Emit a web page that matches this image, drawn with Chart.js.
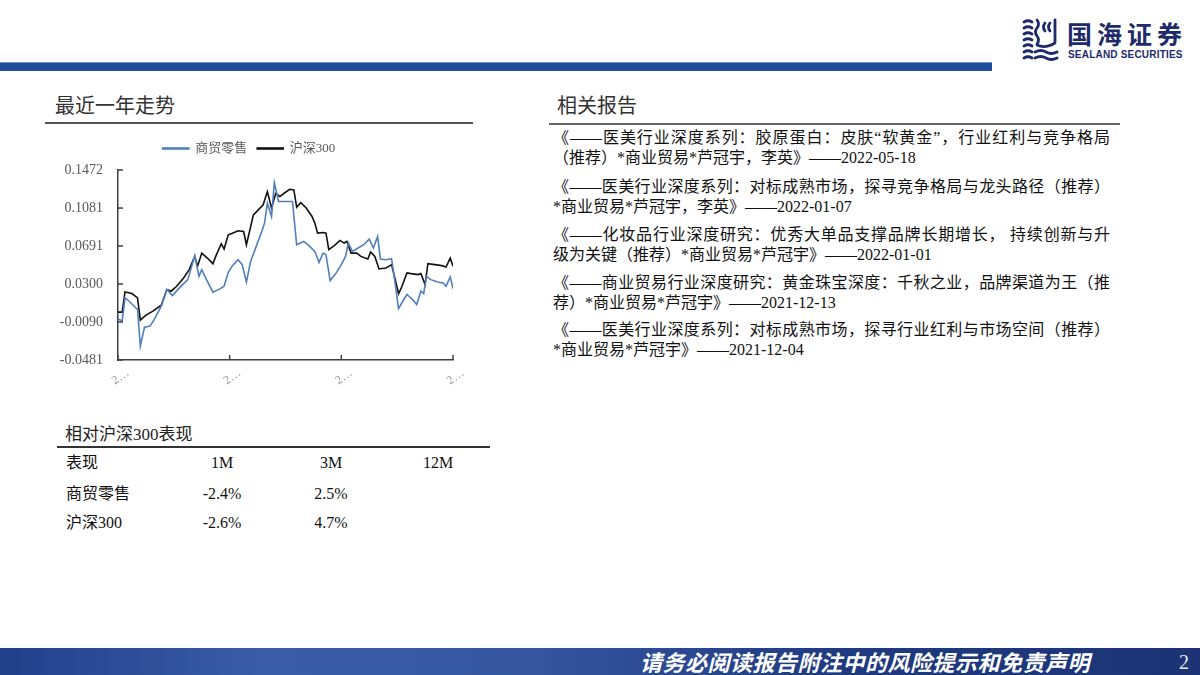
<!DOCTYPE html>
<html><head><meta charset="utf-8">
<script src="https://cdn.jsdelivr.net/npm/chart.js@4.4.0/dist/chart.umd.min.js"></script>
<style>
html,body{margin:0;padding:0;}
body{width:1200px;height:675px;position:relative;overflow:hidden;background:#fff;font-family:"Liberation Serif","Noto Sans CJK SC",serif;color:#111;}
.a{position:absolute;white-space:nowrap;}
.cjk{font-family:"Noto Sans CJK SC",sans-serif;}
.rep{position:absolute;left:553px;width:557px;font-size:16px;line-height:20px;color:#111;}
.rep div{white-space:nowrap;}
.rep .j{text-align:justify;text-align-last:justify;white-space:normal;}
.tc{position:absolute;font-size:16px;line-height:20px;text-align:center;width:80px;}
</style></head>
<body>
<!-- header -->
<div class="a" style="left:0;top:63px;width:992px;height:8px;background:#1f4c99;box-shadow:0 -1px 0 #6f8fc6;"></div>
<svg class="a" style="left:1021px;top:17px" width="40" height="44" viewBox="0 0 40 44">
 <g fill="none" stroke="#1d2b6b" stroke-width="2.8" stroke-linecap="round">
  <path d="M3 5 q4 -2.5 8 0 M3 11 q4 -2.5 8 0 M3 17 q4 -2.5 8 0 M3 23 q4 -2.5 8 0 M3 29 q4 -2.5 8 0 M3 35 q4 -2.5 8 0 M3 41 q4 -2.5 8 0"/>
  <path d="M16 3 q3 4 0 8 q-3 4 0 8 q3 4 0 8 M16 28 q8 4 18 -2 M34 3 v22"/>
  <path d="M24 6 q-3 4 0 8 M29 6 q-3 4 0 8"/>
  <path d="M14 35 q6 -3 11 0 t11 0 M14 41 q6 -3 11 0 t11 0"/>
 </g>
</svg>
<div class="a cjk" style="left:1067px;top:20px;font-size:25px;line-height:27px;font-weight:bold;color:#1d2b6b;letter-spacing:5px;">国海证券</div>
<div class="a" style="left:1068px;top:49px;font-family:'Liberation Sans',sans-serif;font-size:10px;line-height:11px;font-weight:bold;color:#1d2b6b;letter-spacing:0.2px;">SEALAND SECURITIES</div>

<!-- left section -->
<div class="a cjk" style="left:55px;top:91px;font-size:20px;line-height:28px;color:#333;">最近一年走势</div>
<div class="a" style="left:45px;top:122px;width:428px;height:2px;background:#555;"></div>
<canvas id="c" width="430" height="260" style="position:absolute;left:45px;top:132px;width:430px;height:260px"></canvas>

<div class="a" style="left:65px;top:423px;font-size:17px;line-height:24px;color:#222;">相对沪深300表现</div>
<div class="a" style="left:57px;top:446px;width:433px;height:2px;background:#333;"></div>
<div id="tbl"></div>

<!-- right section -->
<div class="a cjk" style="left:557px;top:91px;font-size:20px;line-height:28px;color:#333;">相关报告</div>
<div class="a" style="left:549px;top:123px;width:571px;height:2px;background:#666;"></div>
<div id="reps"></div>

<!-- footer -->
<div class="a" style="left:0;top:648px;width:1200px;height:27px;background:linear-gradient(to right,#223f8a 0%,#3a5ca6 22%,#35559f 45%,#1f3a80 70%,#1c3476 100%);"></div>
<div class="a cjk" style="left:640px;top:649px;font-size:22px;line-height:25px;font-weight:bold;font-style:italic;color:#fff;letter-spacing:0.5px;padding-right:4px;">请务必阅读报告附注中的风险提示和免责声明</div>
<div class="a" style="left:1179px;top:650px;font-size:20px;line-height:24px;color:#e8e8e8;">2</div>

<script>
// ---- data ----
const xTickDays = [0, 80, 160, 240];
const xTickLabels = ['2…', '2…', '2…', '2…'];
const yTicks = [-0.0481, -0.0090, 0.0300, 0.0691, 0.1081, 0.1472];

const seriesNames = ['商贸零售', '沪深300'];

const retailDays = [0,3,5,8,14,16,19,23,26,31,35,39,44,50,55,58,60,64,68,73,76,79,82,86,89,92,95,99,103,105,107,110,112,115,119,125,128,133,136,141,144,147,149,152,156,160,163,165,168,172,176,180,183,186,188,192,196,198,201,204,207,211,214,217,219,221,224,229,233,235,238,240];
const retailValues = [-0.0057,-0.0081,0.0158,0.0123,0.0038,-0.0337,-0.0143,-0.0133,-0.0064,0.0072,0.0243,0.0182,0.0260,0.0345,0.0591,0.0380,0.0448,0.0328,0.0216,0.0250,0.0277,0.0420,0.0489,0.0550,0.0499,0.0321,0.0533,0.0687,0.0840,0.0926,0.1131,0.0994,0.1342,0.1148,0.1148,0.1148,0.0704,0.0738,0.0704,0.0636,0.0523,0.0618,0.0601,0.0335,0.0407,0.0499,0.0584,0.0721,0.0636,0.0670,0.0704,0.0762,0.0670,0.0789,0.0557,0.0550,0.0560,0.0362,0.0048,0.0123,0.0192,0.0141,0.0089,0.0226,0.0202,0.0380,0.0345,0.0321,0.0311,0.0277,0.0373,0.0253];

const hs300Days = [0,3,5,10,14,16,20,25,31,35,38,42,47,51,55,57,60,64,68,70,74,76,79,82,86,90,92,97,100,104,107,110,113,116,119,123,126,128,131,135,139,141,143,147,149,151,155,159,162,164,167,171,174,179,181,184,187,192,196,201,203,207,210,215,217,220,222,227,232,235,238,240];
const hs300Values = [0.0011,0.0011,0.0219,0.0202,0.0158,-0.0071,-0.0020,0.0021,0.0082,0.0243,0.0226,0.0277,0.0362,0.0448,0.0584,0.0482,0.0618,0.0567,0.0509,0.0584,0.0714,0.0659,0.0806,0.0823,0.0847,0.0840,0.0704,0.1011,0.1055,0.1114,0.1250,0.1079,0.1233,0.1199,0.1233,0.1274,0.1267,0.1090,0.1137,0.1079,0.0994,0.0926,0.0823,0.0830,0.0823,0.0653,0.0694,0.0748,0.0721,0.0738,0.0618,0.0618,0.0584,0.0557,0.0629,0.0584,0.0455,0.0465,0.0499,0.0202,0.0260,0.0414,0.0407,0.0397,0.0407,0.0294,0.0509,0.0499,0.0489,0.0475,0.0567,0.0482];

// table
const tableHeader = ['表现', '1M', '3M', '12M'];
const tableRows = [
  ['商贸零售', '-2.4%', '2.5%', ''],
  ['沪深300', '-2.6%', '4.7%', '']
];

const reports = [
  ['《——医美行业深度系列：胶原蛋白：皮肤“软黄金”，行业红利与竞争格局', '（推荐）*商业贸易*芦冠宇，李英》——2022-05-18'],
  ['《——医美行业深度系列：对标成熟市场，探寻竞争格局与龙头路径（推荐）', '*商业贸易*芦冠宇，李英》——2022-01-07'],
  ['《——化妆品行业深度研究：优秀大单品支撑品牌长期增长， 持续创新与升', '级为关键（推荐）*商业贸易*芦冠宇》——2022-01-01'],
  ['《——商业贸易行业深度研究：黄金珠宝深度：千秋之业，品牌渠道为王（推', '荐）*商业贸易*芦冠宇》——2021-12-13'],
  ['《——医美行业深度系列：对标成熟市场，探寻行业红利与市场空间（推荐）', '*商业贸易*芦冠宇》——2021-12-04']
];

// ---- build table ----
(function(){
  const colCenters = [0, 222, 331, 438];
  const rowCenters = [463, 494, 523];
  const host = document.getElementById('tbl');
  const all = [tableHeader].concat(tableRows);
  all.forEach((row, r) => {
    row.forEach((txt, c) => {
      const d = document.createElement('div');
      if (c === 0) { d.className = 'a'; d.style.left = '66px'; d.style.fontSize = '16px'; d.style.lineHeight = '20px'; }
      else { d.className = 'tc'; d.style.left = (colCenters[c] - 40) + 'px'; }
      d.style.top = (rowCenters[r] - 10) + 'px';
      d.textContent = txt;
      host.appendChild(d);
    });
  });
})();

// ---- build reports ----
(function(){
  const host = document.getElementById('reps');
  const tops = [128, 177, 225, 273, 320];
  reports.forEach((rp, i) => {
    const box = document.createElement('div');
    box.className = 'rep';
    box.style.top = tops[i] + 'px';
    const l1 = document.createElement('div'); l1.className = 'j'; l1.textContent = rp[0];
    const l2 = document.createElement('div'); l2.textContent = rp[1];
    box.appendChild(l1); box.appendChild(l2);
    host.appendChild(box);
  });
})();

// ---- chart ----
const toPts = (xs, ys) => xs.map((x, i) => ({x: x, y: ys[i]}));

const legendHeight = {
  id: 'legendHeight',
  beforeInit(chart) {
    const orig = chart.legend.fit;
    chart.legend.fit = function() { orig.call(this); this.height = 38; };
  }
};
const insideTicks = {
  id: 'insideTicks',
  afterDraw(chart) {
    const {ctx} = chart; const x = chart.scales.x, y = chart.scales.y;
    ctx.save(); ctx.strokeStyle = '#404040'; ctx.lineWidth = 1.5;
    y.ticks.forEach((t, i) => { const py = y.getPixelForTick(i); ctx.beginPath(); ctx.moveTo(y.right, py); ctx.lineTo(y.right + 5, py); ctx.stroke(); });
    x.ticks.forEach((t, i) => { const px = x.getPixelForTick(i); ctx.beginPath(); ctx.moveTo(px, x.top); ctx.lineTo(px, x.top - 5); ctx.stroke(); });
    ctx.restore();
  }
};

const fontFam = '"Liberation Serif","Noto Sans CJK SC",serif';
new Chart(document.getElementById('c'), {
  type: 'line',
  data: {
    datasets: [
      {label: seriesNames[0], data: toPts(retailDays, retailValues), borderColor: '#4f7fbc', backgroundColor: '#4f7fbc', borderWidth: 1.6, pointRadius: 0, tension: 0},
      {label: seriesNames[1], data: toPts(hs300Days, hs300Values), borderColor: '#111111', backgroundColor: '#111111', borderWidth: 1.6, pointRadius: 0, tension: 0}
    ]
  },
  options: {
    responsive: false, animation: false, devicePixelRatio: 1,
    layout: {padding: {left: 0, right: 22, top: 0, bottom: 0}},
    plugins: {
      tooltip: {enabled: false},
      legend: {
        position: 'top', align: 'center',
        labels: {boxWidth: 26, boxHeight: 1, padding: 10, color: '#595959', font: {size: 13, family: fontFam}}
      }
    },
    scales: {
      x: {
        type: 'linear', min: xTickDays[0], max: xTickDays[xTickDays.length - 1],
        afterBuildTicks: s => { s.ticks = xTickDays.map(v => ({value: v})); },
        afterFit: s => { s.height = 32; },
        grid: {display: true, drawOnChartArea: false, drawTicks: false},
        border: {display: true, color: '#404040', width: 1.5},
        ticks: {
          autoSkip: false, minRotation: 35, maxRotation: 35, padding: 6, labelOffset: 10,
          color: '#999', font: {size: 12, family: fontFam},
          callback: (v, i) => xTickLabels[i]
        }
      },
      y: {
        min: yTicks[0], max: yTicks[yTicks.length - 1],
        afterBuildTicks: s => { s.ticks = yTicks.map(v => ({value: v})); },
        afterFit: s => { s.width = 73; },
        grid: {display: true, drawOnChartArea: false, drawTicks: false},
        border: {display: true, color: '#404040', width: 1.5},
        ticks: {padding: 15, color: '#595959', font: {size: 14, family: fontFam}, callback: v => v.toFixed(4)}
      }
    }
  },
  plugins: [legendHeight, insideTicks]
});
</script>
</body></html>
